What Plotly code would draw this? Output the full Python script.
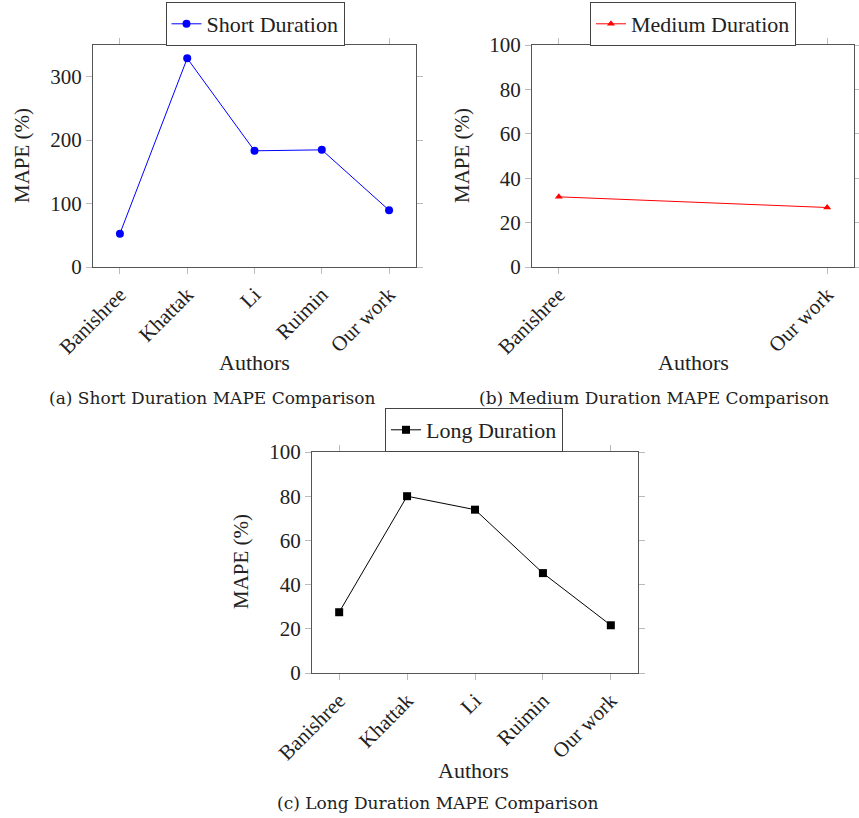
import plotly.graph_objects as go

authors_short = ["Banishree", "Khattak", "Li", "Ruimin", "Our work"]
mape_short = [52.6, 329, 183.2, 184.7, 89.5]

authors_medium = ["Banishree", "Our work"]
mape_medium = [31.6, 26.8]

authors_long = ["Banishree", "Khattak", "Li", "Ruimin", "Our work"]
mape_long = [27.5, 80, 73.9, 45.2, 21.6]

W, H = 859, 818
FONT = "Liberation Serif"
CAP_FONT = "DejaVu Serif"
TXT = "#222222"
AX = "#555555"

fig = go.Figure()

fig.add_trace(go.Scatter(x=list(range(len(authors_short))), y=mape_short, mode="lines+markers",
                         name="Short Duration", line=dict(color="#0000ff", width=1),
                         marker=dict(symbol="circle", size=8, color="#0000ff"),
                         xaxis="x", yaxis="y", legend="legend"))
fig.add_trace(go.Scatter(x=list(range(len(authors_medium))), y=mape_medium, mode="lines+markers",
                         name="Medium Duration", line=dict(color="#ff0000", width=1),
                         marker=dict(symbol="triangle-up", size=7, color="#ff0000"),
                         xaxis="x2", yaxis="y2", legend="legend2"))
fig.add_trace(go.Scatter(x=list(range(len(authors_long))), y=mape_long, mode="lines+markers",
                         name="Long Duration", line=dict(color="#000000", width=1),
                         marker=dict(symbol="square", size=8, color="#000000"),
                         xaxis="x3", yaxis="y3", legend="legend3"))


def px_x(v):
    return v / W


def px_y(v):
    return 1 - v / H


common_ax = dict(showline=True, linecolor=AX, linewidth=1, mirror="allticks", ticks="outside",
                 ticklen=6, tickcolor="#bbbbbb", showgrid=False, zeroline=False,
                 tickfont=dict(family=FONT, size=21, color=TXT))

layout = dict(
    width=W, height=H, margin=dict(l=0, r=0, t=0, b=0, autoexpand=False),
    paper_bgcolor="white", plot_bgcolor="white", showlegend=True,
    xaxis=dict(domain=[px_x(93), px_x(416)], anchor="y", range=[-0.4, 4.4],
               tickmode="array", tickvals=list(range(len(authors_short))), ticktext=authors_short,
               tickangle=-45, **common_ax),
    yaxis=dict(domain=[px_y(267), px_y(45)], anchor="x", range=[0, 350],
               tickvals=[0, 100, 200, 300], **common_ax),
    xaxis2=dict(domain=[px_x(532), px_x(854)], anchor="y2", range=[-0.1, 1.1],
                tickmode="array", tickvals=list(range(len(authors_medium))), ticktext=authors_medium,
                tickangle=-45, **common_ax),
    yaxis2=dict(domain=[px_y(267), px_y(45)], anchor="x2", range=[0, 100],
                tickvals=[0, 20, 40, 60, 80, 100], **common_ax),
    xaxis3=dict(domain=[px_x(312), px_x(638)], anchor="y3", range=[-0.4, 4.4],
                tickmode="array", tickvals=list(range(len(authors_long))), ticktext=authors_long,
                tickangle=-45, **common_ax),
    yaxis3=dict(domain=[px_y(673), px_y(452)], anchor="x3", range=[0, 100],
                tickvals=[0, 20, 40, 60, 80, 100], **common_ax),
)

leg_common = dict(bordercolor="#444444", borderwidth=1, bgcolor="white",
                  font=dict(family=FONT, size=22, color=TXT), xanchor="center", yanchor="top",
                  xref="paper", yref="paper")
layout["legend"] = dict(x=px_x(255), y=px_y(2), **leg_common)
layout["legend2"] = dict(x=px_x(693), y=px_y(2), **leg_common)
layout["legend3"] = dict(x=px_x(474), y=px_y(408), **leg_common)

fig.update_layout(**layout)

annots = [
    ("MAPE (%)", 22, 156, 21, -90, FONT),
    ("MAPE (%)", 462, 156, 21, -90, FONT),
    ("MAPE (%)", 241, 562, 21, -90, FONT),
    ("Authors", 254, 362, 22, 0, FONT),
    ("Authors", 693, 362, 22, 0, FONT),
    ("Authors", 474, 770, 22, 0, FONT),
    ("(a) Short Duration MAPE Comparison", 212, 398, 17, 0, CAP_FONT),
    ("(b) Medium Duration MAPE Comparison", 654, 398, 17, 0, CAP_FONT),
    ("(c) Long Duration MAPE Comparison", 437, 803, 17, 0, CAP_FONT),
]
for text, x, y, size, ang, fam in annots:
    fig.add_annotation(text=text, x=px_x(x), y=px_y(y), xref="paper", yref="paper",
                       showarrow=False, textangle=ang, xanchor="center", yanchor="middle",
                       font=dict(family=fam, size=size, color=TXT))

fig.write_html("out.html")
